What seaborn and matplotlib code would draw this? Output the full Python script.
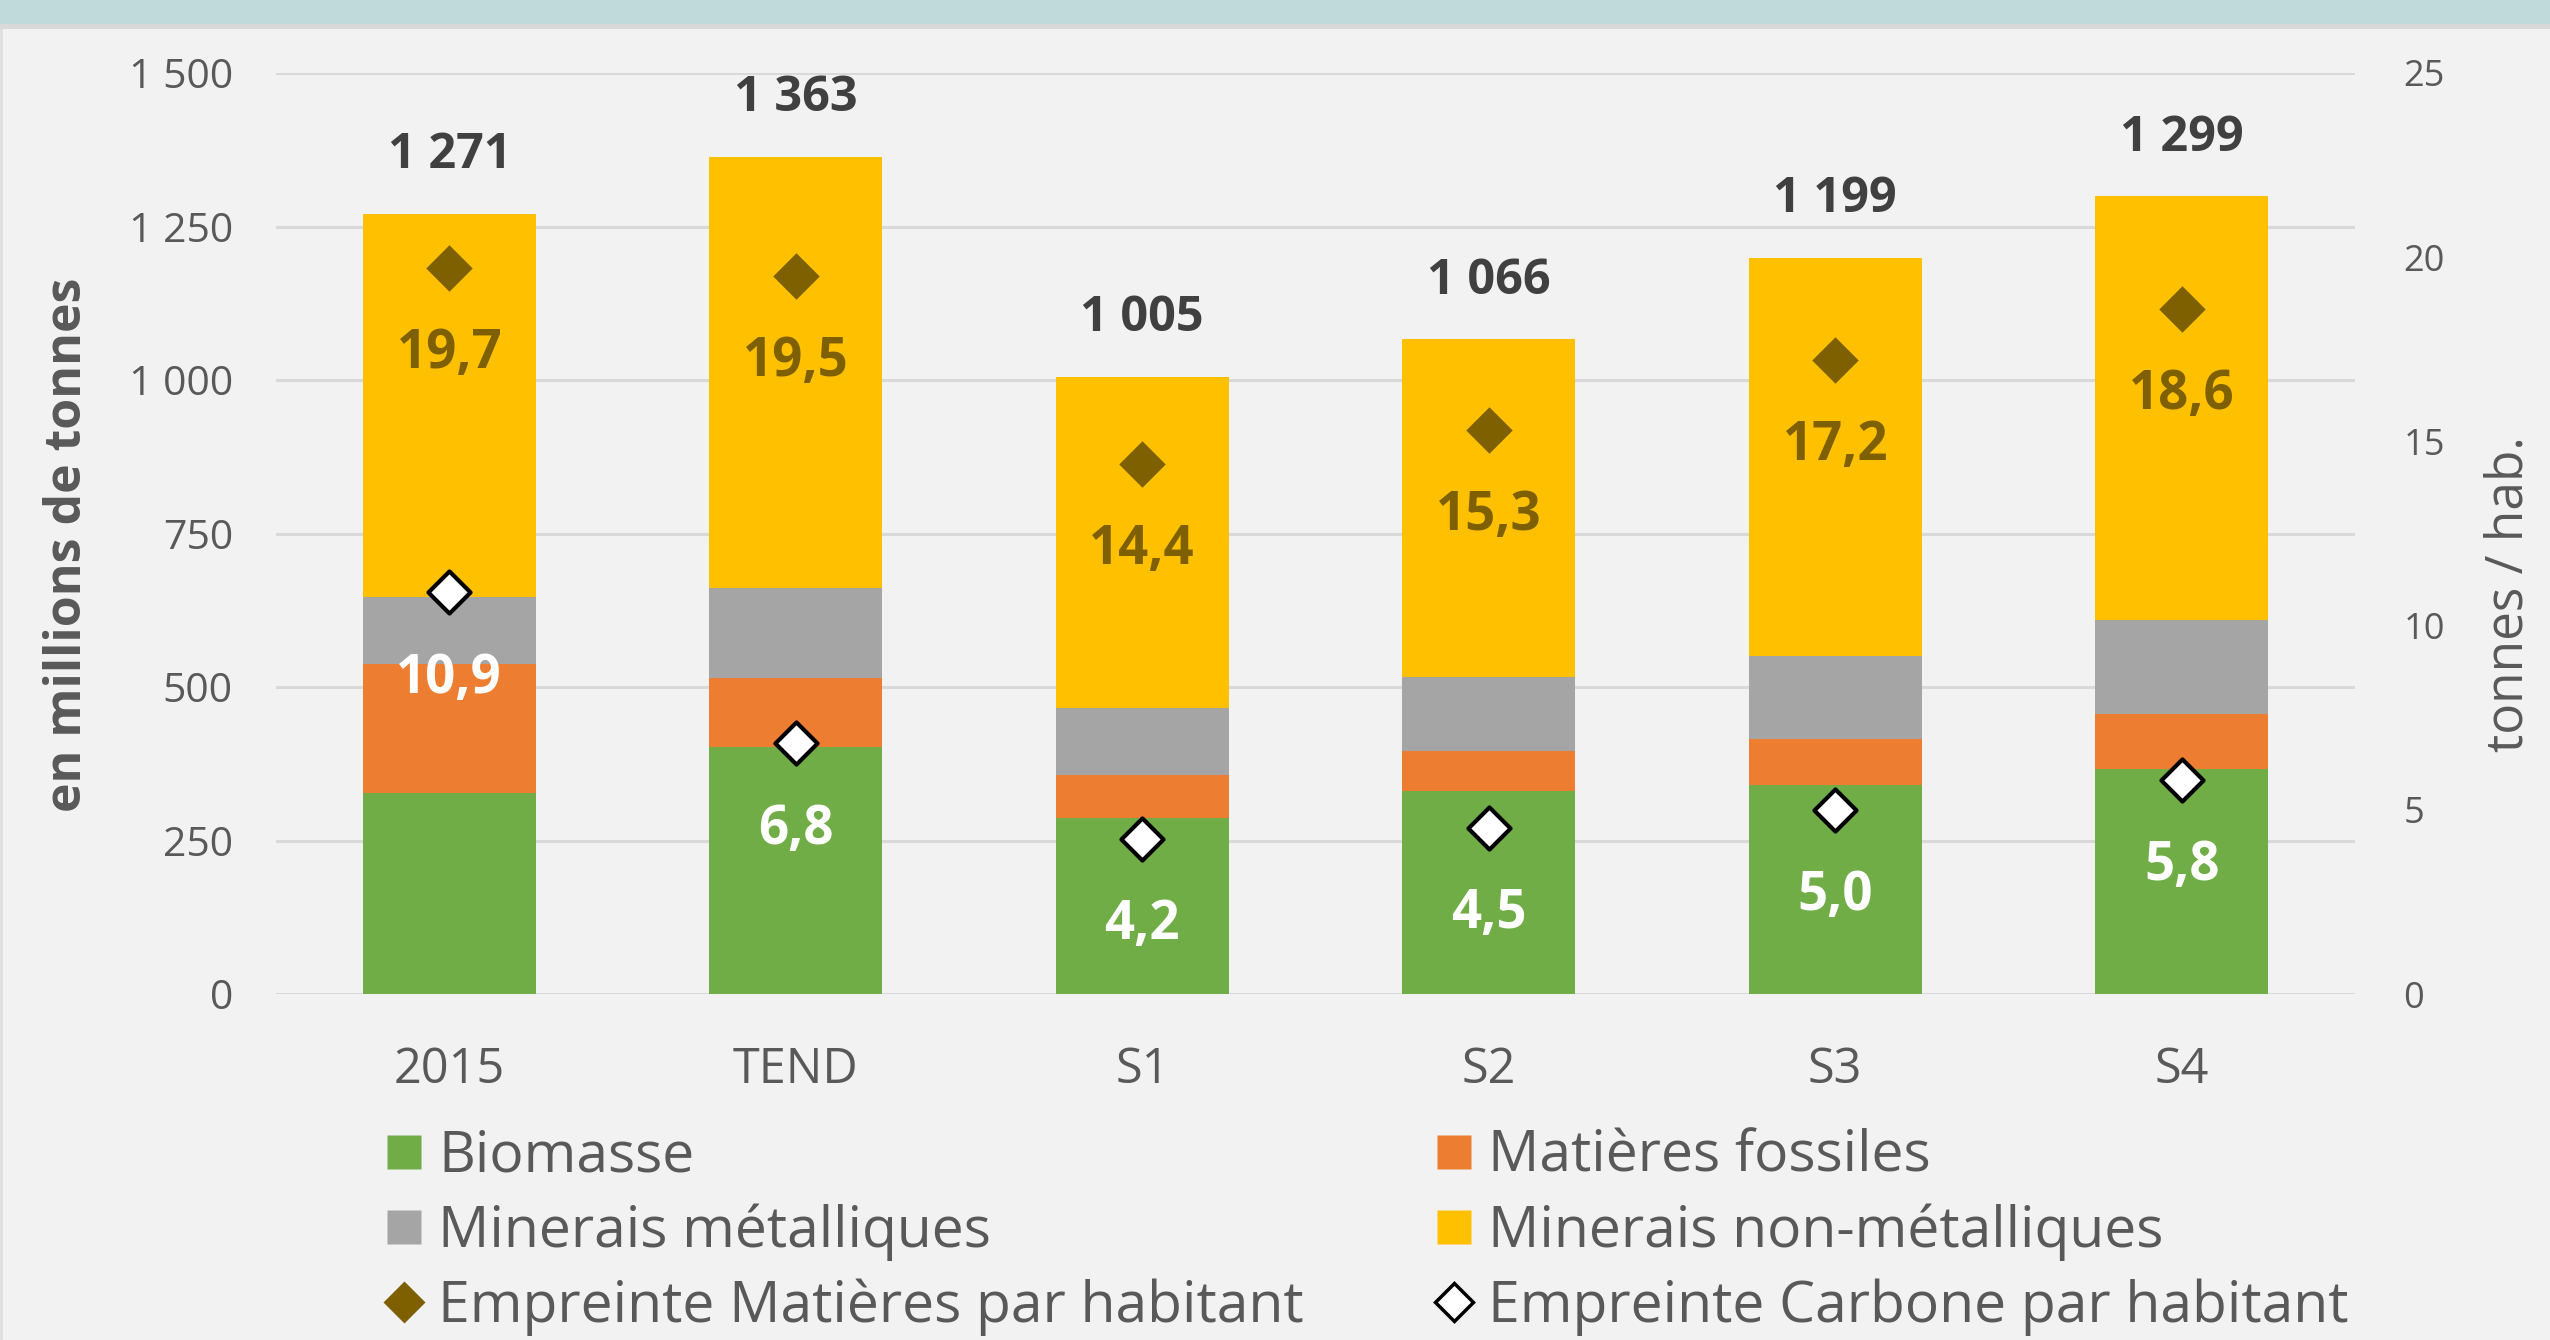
import numpy as np
import pandas as pd
import matplotlib
matplotlib.use("Agg")
import matplotlib.pyplot as plt
from matplotlib.lines import Line2D
from matplotlib.patches import Rectangle
import seaborn as sns

# ---------------- data ----------------
categories = ["2015", "TEND", "S1", "S2", "S3", "S4"]
biomasse = [327, 402, 286, 330, 340, 366]
fossiles = [210, 113, 70, 66, 76, 90]
metalliques = [110, 146, 109, 121, 134, 153]
non_metalliques = [624, 702, 540, 549, 649, 690]
empreinte_matieres = [19.7, 19.5, 14.4, 15.3, 17.2, 18.6]
empreinte_carbone = [10.9, 6.8, 4.2, 4.5, 5.0, 5.8]
left_ticks = [0, 250, 500, 750, 1000, 1250, 1500]
right_ticks = [0, 5, 10, 15, 20, 25]
series_names = ["Biomasse", "Matières fossiles", "Minerais métalliques",
                "Minerais non-métalliques", "Empreinte Matières par habitant",
                "Empreinte Carbone par habitant"]

# ---------------- style ----------------
BG = "#F2F2F2"
GRID = "#D9D9D9"
TXT = "#595959"
C_BIO = "#70AD47"
C_FOS = "#ED7D31"
C_MET = "#A5A5A5"
C_NON = "#FFC000"
C_MAT = "#7F6000"

sns.set_theme(style="white")
plt.rcParams["font.family"] = ["Open Sans", "DejaVu Sans"]

W, H = 2550, 1340
fig = plt.figure(figsize=(W / 100, H / 100), dpi=100, facecolor=BG)

# top band
fig.patches.append(Rectangle((0, 1 - 24 / H), 1, 24 / H, transform=fig.transFigure,
                             facecolor="#C0D9DA", edgecolor="none", zorder=0))
fig.patches.append(Rectangle((0, 1 - 29 / H), 1, 5 / H, transform=fig.transFigure,
                             facecolor="#D9D9D9", edgecolor="none", zorder=0))
fig.patches.append(Rectangle((0, 0), 3 / W, 1 - 29 / H, transform=fig.transFigure,
                             facecolor="#E0E0E0", edgecolor="none", zorder=0))

ax_l, ax_r, ax_b, ax_t = 276 / W, 2355 / W, 1 - 994 / H, 1 - 73 / H
ax = fig.add_axes([ax_l, ax_b, ax_r - ax_l, ax_t - ax_b])
ax.set_facecolor("none")

df = pd.DataFrame({
    "cat": categories,
    "bio": biomasse,
    "fos": fossiles,
    "met": metalliques,
    "non": non_metalliques,
})
df["c1"] = df["bio"]
df["c2"] = df["c1"] + df["fos"]
df["c3"] = df["c2"] + df["met"]
df["c4"] = df["c3"] + df["non"]

for col, color in [("c4", C_NON), ("c3", C_MET), ("c2", C_FOS), ("c1", C_BIO)]:
    sns.barplot(data=df, x="cat", y=col, color=color, saturation=1, width=0.5,
                linewidth=0, edgecolor="none", ax=ax, zorder=2, order=categories)

ax.set_xlim(-0.5, len(categories) - 0.5)
ax.set_ylim(0, 1500)
ax.set_yticks(left_ticks)
ax.set_yticklabels([f"{v:,}".replace(",", " ") for v in left_ticks])
ax.yaxis.grid(True, color=GRID, linewidth=2.2, zorder=0)
ax.set_axisbelow(True)
ax.set_xlabel("")
ax.set_ylabel("")
for s in ax.spines.values():
    s.set_visible(False)
ax.tick_params(axis="y", length=0, pad=31, labelsize=29.5, labelcolor=TXT)
ax.tick_params(axis="x", length=0, pad=37, labelsize=35, labelcolor=TXT)

# total labels
for i, tot in enumerate(df["c4"]):
    ax.annotate(f"{tot:,}".replace(",", " "), (i, tot), xytext=(0, 42),
                textcoords="offset points", ha="center", va="center",
                fontsize=35, fontweight="bold", color="#404040", zorder=5)

# right axis
ax2 = ax.twinx()
ax2.set_ylim(0, 25)
ax2.set_yticks(right_ticks)
ax2.set_yticklabels([str(v) for v in right_ticks])
for s in ax2.spines.values():
    s.set_visible(False)
ax2.tick_params(axis="y", length=0, pad=35, labelsize=26, labelcolor=TXT)
ax2.grid(False)

pts = pd.DataFrame({"cat": categories, "mat": empreinte_matieres, "carb": empreinte_carbone})
sns.scatterplot(data=pts, x="cat", y="mat", marker="D", s=560, color=C_MAT,
                linewidth=0, ax=ax2, zorder=4, legend=False)
sns.scatterplot(data=pts, x="cat", y="carb", marker="D", s=460, color="white",
                edgecolor="black", linewidth=3, ax=ax2, zorder=4, legend=False)
ax2.set_xlabel("")
ax2.set_ylabel("")
ax.set_xlim(-0.5, len(categories) - 0.5)

for i, v in enumerate(empreinte_matieres):
    ax2.annotate(f"{v:.1f}".replace(".", ","), (i, v), xytext=(0, -62),
                 textcoords="offset points", ha="center", va="center",
                 fontsize=38, fontweight="bold", color=C_MAT, zorder=5)
for i, v in enumerate(empreinte_carbone):
    ax2.annotate(f"{v:.1f}".replace(".", ","), (i, v), xytext=(0, -62),
                 textcoords="offset points", ha="center", va="center",
                 fontsize=38, fontweight="bold", color="white", zorder=5)

# axis titles
fig.text(68 / W, 1 - 545 / H, "en millions de tonnes", rotation=90, ha="center",
         va="center", fontsize=36, fontweight="bold", color=TXT)
fig.text(2509 / W, 1 - 594 / H, "tonnes / hab.", rotation=90, ha="center",
         va="center", fontsize=37, color=TXT)

# legend (two columns built as two legends)
def sq(c):
    return Line2D([], [], marker="s", linestyle="none", markersize=24,
                  markerfacecolor=c, markeredgecolor="none")

h_col1 = [sq(C_BIO), sq(C_MET),
          Line2D([], [], marker="D", linestyle="none", markersize=21,
                 markerfacecolor=C_MAT, markeredgecolor="none")]
l_col1 = [series_names[0], series_names[2], series_names[4]]
h_col2 = [sq(C_FOS), sq(C_NON),
          Line2D([], [], marker="D", linestyle="none", markersize=19,
                 markerfacecolor="white", markeredgecolor="black", markeredgewidth=2.5)]
l_col2 = [series_names[1], series_names[3], series_names[5]]

common = dict(loc="upper left", frameon=False, fontsize=41, labelcolor=TXT,
              handlelength=0.55, handletextpad=0.33, labelspacing=0.31,
              borderpad=0, borderaxespad=0)
leg1 = fig.legend(h_col1, l_col1, bbox_to_anchor=(388 / W, 1 - 1129 / H), **common)
leg2 = fig.legend(h_col2, l_col2, bbox_to_anchor=(1438 / W, 1 - 1129 / H), **common)

fig.savefig("out.png", dpi=100, facecolor=BG)
